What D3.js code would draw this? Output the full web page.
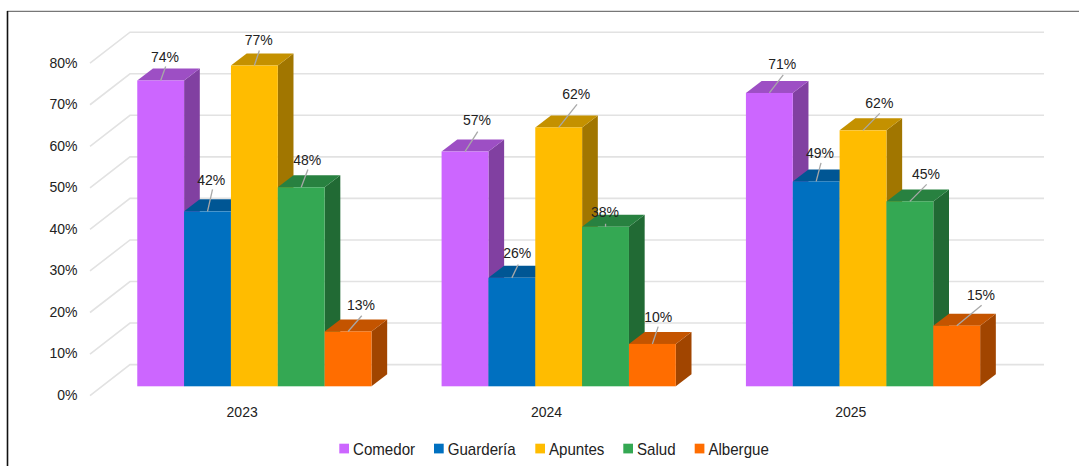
<!DOCTYPE html>
<html><head><meta charset="utf-8">
<script src="https://cdn.jsdelivr.net/npm/d3@7/dist/d3.min.js"></script>
<style>html,body{margin:0;padding:0;background:#fff}svg{display:block}text{font-family:"Liberation Sans",Arial,sans-serif;fill:#222}</style>
</head><body><svg id="c" width="1079" height="466"></svg>
<script>
const years = ["2023","2024","2025"];
const seriesNames = ["Comedor","Guardería","Apuntes","Salud","Albergue"];
const seriesColors = ["#cc66ff","#0070c0","#ffbc00","#34a853","#ff6d00"];
const comedor = [73.6,56.5,70.6];
const guarderia = [42.1,26.1,49.3];
const apuntes = [77.2,62.3,61.6];
const salud = [47.9,38.4,44.5];
const albergue = [13.2,10.2,14.6];
const seriesValues = [comedor,guarderia,apuntes,salud,albergue];
const yTicks = [0,10,20,30,40,50,60,70,80];
// leader end offset and label offset from the centre of each bar's front top edge, [series][year]
const leaderEnd = [[[5,-14],[12.7,-20],[13.9,-18]],[[5,-22],[6.4,-13.4],[4.8,-18.6]],[[5,-15],[18.3,-23],[16.7,-17]],[[6.7,-17.7],[0,-3],[16.8,-17]],[[13.7,-15.7],[5.8,-17.3],[24.9,-20.4]]];
const labelPos = [[[4.3,-23],[12,-31],[12.9,-28.7]],[[3.8,-31],[5.4,-24.4],[3.8,-28.6]],[[4.3,-25],[17.6,-33.7],[16.3,-27.7]],[[6,-27],[-0.6,-14.3],[16.1,-27]],[[13,-26.5],[5.8,-27.3],[24.2,-30.4]]];

const svg = d3.select("#c");
svg.append("line").attr("x1",7).attr("x2",1079).attr("y1",11.3).attr("y2",11.3).attr("stroke","#777").attr("stroke-width",1.2);
svg.append("line").attr("x1",7.5).attr("x2",7.5).attr("y1",11).attr("y2",466).attr("stroke","#111").attr("stroke-width",1.6);

const floorDx = 40, floorDy = -31, depthDx = 15.7, depthDy = -12, baseDx = 12.2, baseDy = -9.3;
const y = d3.scaleLinear().domain([0,100]).range([395.6,-19.9]);
const x0 = d3.scaleBand().domain(years).range([90,1003]).paddingInner(0.2304).paddingOuter(0.1152);
const x1 = d3.scaleBand().domain(seriesNames).range([0,x0.bandwidth()]);
const barY = v => y(v) + baseDy;
const barX = (yr,s) => x0(yr) + x1(s) + baseDx;

// 3D grid
const grid = svg.append("g").attr("fill","none").attr("stroke","#e2e2e2").attr("stroke-width",1.6);
yTicks.forEach(t=>{
  grid.append("path").attr("d",d3.line()([[90,y(t)],[90+floorDx,y(t)+floorDy],[1004+floorDx,y(t)+floorDy]]));
});
// tick labels
svg.append("g").selectAll("text").data(yTicks).join("text")
  .attr("x",77.5).attr("y",d=>y(d)-0.5).attr("dy","0.35em").attr("text-anchor","end")
  .attr("font-size",14).text(d=>d+"%");
// category labels
svg.append("g").selectAll("text").data(years).join("text")
  .attr("x",d=>x0(d)+x0.bandwidth()/2).attr("y",412).attr("dy","0.35em").attr("text-anchor","middle")
  .attr("font-size",14).text(d=>d);

const dark = (c,k)=>{const r=d3.rgb(c);return d3.rgb(r.r*k,r.g*k,r.b*k).formatHex();};
// bars, drawn left to right per group, so later bars overlap earlier sides
const bw = x1.bandwidth();
years.forEach((yr,yi)=>{
  const g = svg.append("g");
  seriesNames.forEach((s,si)=>{
    const v = seriesValues[si][yi], c = seriesColors[si];
    const L = barX(yr,s), R = L+bw, T = barY(v), B = barY(0);
    g.append("path").attr("fill",dark(c,0.63)).attr("d",d3.line()([[R,T],[R+depthDx,T+depthDy],[R+depthDx,B+depthDy],[R,B]])+"Z");
    g.append("path").attr("fill",dark(c,0.77)).attr("d",d3.line()([[L,T],[L+depthDx,T+depthDy],[R+depthDx,T+depthDy],[R,T]])+"Z");
    g.append("rect").attr("x",L).attr("y",T).attr("width",bw).attr("height",B-T).attr("fill",c);
  });
});
// leaders and labels on top
years.forEach((yr,yi)=>{
  seriesNames.forEach((s,si)=>{
    const v = seriesValues[si][yi];
    const cx = barX(yr,s)+bw/2, T = barY(v);
    const e = leaderEnd[si][yi], l = labelPos[si][yi];
    svg.append("line").attr("x1",cx).attr("y1",T).attr("x2",cx+e[0]).attr("y2",T+e[1]).attr("stroke","#a8a8a8").attr("stroke-width",1.3);
    svg.append("text").attr("x",cx+l[0]).attr("y",T+l[1]).attr("dy","0.35em").attr("text-anchor","middle").attr("font-size",14).text(Math.round(v)+"%");
  });
});
// legend
const legendX = [339.3,434,535.3,623.3,694.7];
const leg = svg.append("g").selectAll("g").data(seriesNames).join("g").attr("transform",(d,i)=>`translate(${legendX[i]},443.7)`);
leg.append("rect").attr("width",9.7).attr("height",9.7).attr("fill",(d,i)=>seriesColors[i]);
leg.append("text").attr("transform","translate(13.7,5) scale(0.91,1)").attr("dy","0.35em").attr("font-size",16.6).text(d=>d);
</script></body></html>
